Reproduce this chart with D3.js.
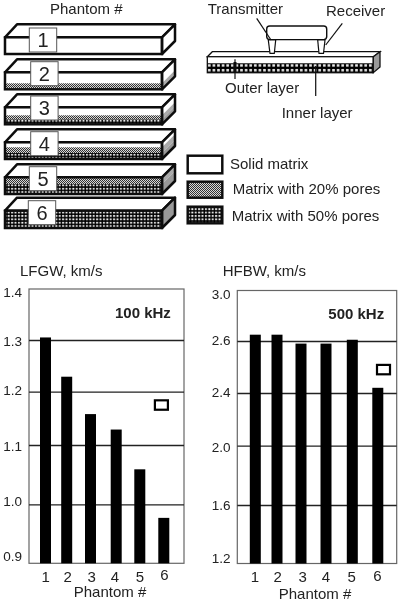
<!DOCTYPE html>
<html><head><meta charset="utf-8">
<script src="https://cdn.jsdelivr.net/npm/d3@7"></script>
<style>
html,body{margin:0;padding:0;background:#fff;overflow:hidden}
svg{display:block}
text{font-family:"Liberation Sans",Arial,sans-serif;font-size:15px;fill:#222}
</style></head><body>
<script>
// ---- data ----
const phantoms = [1,2,3,4,5,6];
const lfgwTicks = [0.9,1.0,1.1,1.2,1.3,1.4];
const lfgwValues = [1.305,1.229,1.158,1.129,1.059,0.977];
const lfgwSolid = 1.175;
const hfbwTicks = [1.2,1.6,2.0,2.4,2.6,3.0];
const hfbwValues = [2.65,2.65,2.59,2.59,2.61,2.42];
const hfbwSolid = 2.49;
// layer thickness of each phantom
const solidLayer = [16.7,11,8,5,0,0];
const pore20Layer = [0,6,4.2,5.7,6.7,0];
const pore50Layer = [0,0,4.8,6,10,17.3];
const legendLabels = ["Solid matrix","Matrix with 20% pores","Matrix with 50% pores"];

// ---- layout ----
const svg = d3.select("body").append("svg").attr("width",400).attr("height",603);
const defs = svg.append("defs");
const p20 = defs.append("pattern").attr("id","p20").attr("patternUnits","userSpaceOnUse").attr("width",2).attr("height",2);
p20.append("rect").attr("width",2).attr("height",2).attr("fill","#d8d8d8");
p20.append("rect").attr("width",1).attr("height",1).attr("fill","#333");
p20.append("rect").attr("x",1).attr("y",1).attr("width",1).attr("height",1).attr("fill","#333");
const p50 = defs.append("pattern").attr("id","p50").attr("patternUnits","userSpaceOnUse").attr("width",3.4).attr("height",3.4);
p50.append("rect").attr("width",3.4).attr("height",3.4).attr("fill","#000");
p50.append("rect").attr("x",1).attr("y",0.8).attr("width",1.9).attr("height",1.9).attr("fill","#eee");
const p50s = defs.append("pattern").attr("id","p50s").attr("patternUnits","userSpaceOnUse").attr("width",4.6).attr("height",4.7).attr("y",63.3);
p50s.append("rect").attr("width",4.6).attr("height",4.7).attr("fill","#000");
p50s.append("rect").attr("x",1).attr("y",1).attr("width",2.6).attr("height",2.4).attr("fill","#eee");
const soft = defs.append("filter").attr("id","soft");
soft.append("feGaussianBlur").attr("stdDeviation",0.35);

const ink = "#111";
const root = svg.append("g").attr("filter","url(#soft)");

function txt(x,y,s,opt={}){
  const t = root.append("text").attr("x",x).attr("y",y).text(s);
  if(opt.anchor) t.attr("text-anchor",opt.anchor);
  if(opt.weight) t.style("font-weight",opt.weight);
  if(opt.size) t.style("font-size",opt.size+"px");
  return t;
}

// ---- phantom stack ----
txt(50,14.3,"Phantom #");
const frontX0 = 5, frontX1 = 162, depthX = 13, depthY = 13;
const rowTop = d3.scaleOrdinal().domain(phantoms).range([37.3,72.3,107.3,142.3,177.3,210.7]);
const boxX = d3.scaleOrdinal().domain(phantoms).range([29.3,30.7,30.7,30.7,29.3,28.3]);
const boxY = d3.scaleOrdinal().domain(phantoms).range([28,61.7,96,131.7,166.7,200.7]);
const boxH = 24;
const boxW = 27.4;
phantoms.forEach((p,i)=>{
  const top = rowTop(p);
  const g = root.append("g");
  const layers = [[solidLayer[i],"#fff","#fff"],[pore20Layer[i],"url(#p20)","#aaa"],[pore50Layer[i],"url(#p50)","#999"]];
  const total = d3.sum(layers,d=>d[0]);
  g.append("polygon")
    .attr("points",[[frontX0,top],[frontX0+12,top-depthY],[frontX1+depthX,top-depthY],[frontX1,top]].join(" "))
    .attr("fill","#fff").attr("stroke",ink).attr("stroke-width",2.5).attr("stroke-linejoin","round");
  let y = top;
  layers.forEach(l=>{
    if(l[0]<=0) return;
    g.append("rect").attr("x",frontX0).attr("y",y).attr("width",frontX1-frontX0).attr("height",l[0]).attr("fill",l[1]);
    g.append("polygon")
      .attr("points",[[frontX1,y],[frontX1+depthX,y-depthY],[frontX1+depthX,y+l[0]-depthY],[frontX1,y+l[0]]].join(" "))
      .attr("fill",l[2]);
    y += l[0];
  });
  g.append("rect").attr("x",frontX0).attr("y",top).attr("width",frontX1-frontX0).attr("height",total)
    .attr("fill","none").attr("stroke",ink).attr("stroke-width",2.5);
  g.append("polygon")
    .attr("points",[[frontX1,top],[frontX1+depthX,top-depthY],[frontX1+depthX,top+total-depthY],[frontX1,top+total]].join(" "))
    .attr("fill","none").attr("stroke",ink).attr("stroke-width",2.5).attr("stroke-linejoin","round");
  g.append("rect").attr("x",boxX(p)).attr("y",boxY(p)).attr("width",boxW).attr("height",boxH)
    .attr("fill","#fff").attr("stroke","#555").attr("stroke-width",1);
  g.append("text").attr("x",boxX(p)+boxW/2).attr("y",boxY(p)+boxH/2+7).attr("text-anchor","middle")
    .style("font-size","20px").text(p);
});

// ---- transducer schematic ----
const s = root.append("g").attr("fill","none").attr("stroke",ink);
s.append("polygon").attr("points","207.3,56.7 212.3,51.7 380,51.7 373.3,56.7").attr("fill","#fff").attr("stroke-width",1.3);
s.append("rect").attr("x",207.3).attr("y",56.7).attr("width",166).attr("height",6.6).attr("fill","#fff").attr("stroke","none");
s.append("rect").attr("x",207.3).attr("y",63.3).attr("width",166).attr("height",9.4).attr("fill","url(#p50s)").attr("stroke","none");
s.append("rect").attr("x",207.3).attr("y",56.7).attr("width",166).attr("height",16).attr("stroke-width",1.3);
s.append("polygon").attr("points","373.3,56.7 380,51.7 380,67 373.3,72.7").attr("fill","#999").attr("stroke-width",1.3);
s.append("rect").attr("x",266.7).attr("y",26).attr("width",60).attr("height",13.6).attr("rx",3).attr("fill","#fff").attr("stroke-width",1.4);
s.append("polygon").attr("points","268.3,40 275.7,40 274.3,53.3 270,53.3").attr("fill","#fff").attr("stroke-width",1.2);
s.append("polygon").attr("points","317.7,40 325,40 323.5,53.3 319,53.3").attr("fill","#fff").attr("stroke-width",1.2);
s.append("line").attr("x1",256.7).attr("y1",18.3).attr("x2",271).attr("y2",40).attr("stroke-width",1.2);
s.append("line").attr("x1",342.3).attr("y1",23.3).attr("x2",325.7).attr("y2",45).attr("stroke-width",1.2);
s.append("line").attr("x1",235).attr("y1",59.3).attr("x2",235).attr("y2",79).attr("stroke-width",1.2);
s.append("line").attr("x1",235).attr("y1",62).attr("x2",235).attr("y2",72).attr("stroke-width",3);
s.append("line").attr("x1",315.7).attr("y1",66).attr("x2",315.7).attr("y2",96).attr("stroke-width",1.2);
txt(207.7,14,"Transmitter");
txt(326,15.7,"Receiver");
txt(225,93.3,"Outer layer");
txt(281.7,118.3,"Inner layer");

// ---- legend ----
const legendFill = ["#fff","url(#p20)","url(#p50)"];
const legendBoxY = [155.7,181.7,206.7];
const legendBoxH = [17.6,16,16.6];
const legendTextX = [230,232.7,231.7];
const legendTextY = [169.3,194.3,220.7];
legendLabels.forEach((l,i)=>{
  root.append("rect").attr("x",187.7).attr("y",legendBoxY[i]).attr("width",34.6).attr("height",legendBoxH[i])
    .attr("fill",legendFill[i]).attr("stroke",ink).attr("stroke-width",2.5);
  txt(legendTextX[i],legendTextY[i],l);
});

// ---- bar panels ----
function panel(o){
  const y = d3.scaleLinear().domain(o.ticks).range(o.tickY);
  const x = d3.scaleOrdinal().domain(phantoms).range(o.barX);
  const lx = d3.scaleOrdinal().domain(phantoms).range(o.labelX);
  const g = root.append("g");
  const top = y(o.ticks[o.ticks.length-1]), bot = y(o.ticks[0]);
  g.append("rect").attr("x",o.x0).attr("y",top).attr("width",o.x1-o.x0).attr("height",bot-top)
    .attr("fill","#fff").attr("stroke","#666").attr("stroke-width",1.2);
  const axis = d3.axisLeft(y).tickValues(o.ticks.slice(1,-1)).tickSize(-(o.x1-o.x0)).tickFormat("");
  const ag = g.append("g").attr("transform",`translate(${o.x0},0)`).call(axis);
  ag.select(".domain").remove();
  ag.selectAll("line").attr("stroke","#222").attr("stroke-width",1.3);
  g.selectAll(".bar").data(o.values).enter().append("rect")
    .attr("x",(d,i)=>x(phantoms[i])-5.5).attr("width",11)
    .attr("y",d=>y(d)).attr("height",d=>bot-y(d)).attr("fill","#000");
  o.ticks.forEach((t,i)=>{
    txt(o.labelRight,o.labelMid[i]+4.7,d3.format(".1f")(t),{anchor:"end",size:13.5});
  });
  phantoms.forEach(p=>txt(lx(p),p===6?o.lastBase:o.numBase,p,{anchor:"middle"}));
  g.append("rect").attr("x",o.solidX).attr("y",y(o.solid)-4.7).attr("width",13).attr("height",9.4)
    .attr("fill","#fff").attr("stroke","#000").attr("stroke-width",2.2);
  txt(o.titleX,275.7,o.title);
  txt(o.freqX,o.freqY,o.freq,{weight:"bold"});
  txt(o.xTitleX,o.xTitleY,"Phantom #",{anchor:"middle"});
}
panel({
  ticks:lfgwTicks,values:lfgwValues,solid:lfgwSolid,
  tickY:[563.3,504.3,445,391.7,340,289],
  x0:29,x1:184,
  barX:[45.5,66.7,90.5,116.2,139.8,163.8],
  labelX:[45.7,67.7,91.7,115,140,164.3],
  labelRight:22,labelMid:[556,501.7,446,390.7,341.7,292.7],
  numBase:581.7,lastBase:580,
  solidX:154.9,
  title:"LFGW, km/s",titleX:20,
  freq:"100 kHz",freqX:115,freqY:318.3,
  xTitleX:110,xTitleY:597.3
});
panel({
  ticks:hfbwTicks,values:hfbwValues,solid:hfbwSolid,
  tickY:[563.5,505,445.7,393,341,290.5],
  x0:237.3,x1:396.7,
  barX:[255.3,277,301,326,352.3,377.8],
  labelX:[255,277.7,302.7,326,351.7,377.3],
  labelRight:230.5,labelMid:[558,505,447,392,340,294],
  numBase:581.7,lastBase:581,
  solidX:377,
  title:"HFBW, km/s",titleX:222.7,
  freq:"500 kHz",freqX:328.3,freqY:319,
  xTitleX:315,xTitleY:599
});
</script>
</body></html>
